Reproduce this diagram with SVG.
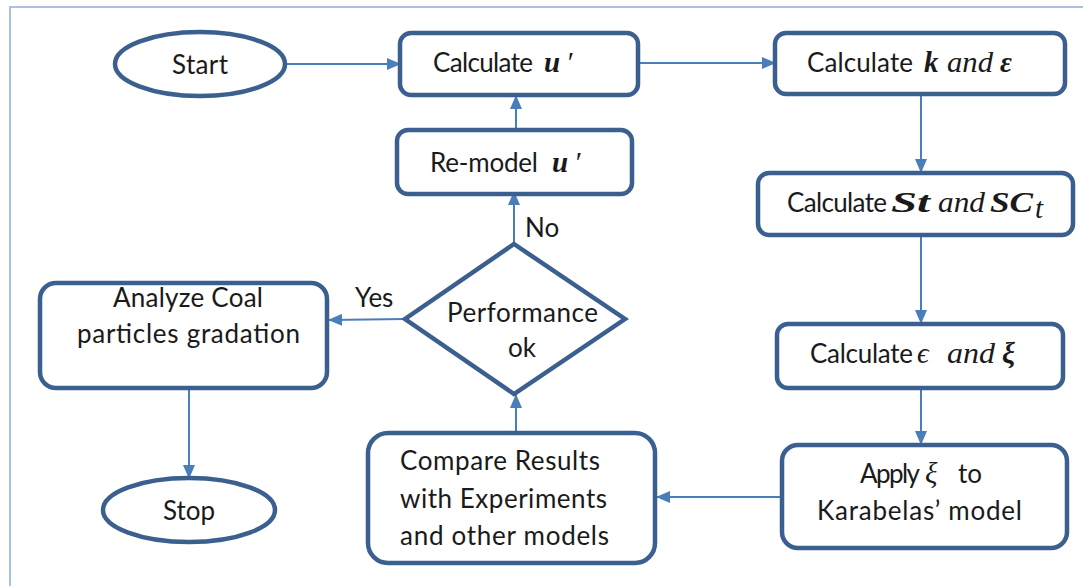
<svg xmlns="http://www.w3.org/2000/svg" width="1083" height="586" viewBox="0 0 1083 586">
<defs>
<style>
.box{fill:#fff;stroke:#3b5f8e;stroke-width:4.5}
.t{font-family:Lato,"Open Sans","Liberation Sans",sans-serif;font-size:26px;fill:#1a1a1a}
.m{font-family:"Liberation Serif","DejaVu Serif",serif;font-style:italic;font-size:29px;fill:#1a1a1a}
.b{font-weight:bold}
.c{fill:none;stroke:#4a7ebb;stroke-width:2}
.frame{fill:none;stroke:#a8c2e4;stroke-width:2}
</style>
<marker id="ah" viewBox="0 0 14 12" refX="13" refY="6" markerWidth="14" markerHeight="12" markerUnits="userSpaceOnUse" orient="auto">
<path d="M0,0 L14,6 L0,12 z" fill="#4a7ebb"/>
</marker>
</defs>
<rect width="1083" height="586" fill="#fff"/>
<path class="frame" d="M10,586 V7 H1083"/>
<g id="connectors">
<path class="c" d="M286,64 H400" marker-end="url(#ah)"/>
<path class="c" d="M640,63 H775" marker-end="url(#ah)"/>
<path class="c" d="M921,95 V172" marker-end="url(#ah)"/>
<path class="c" d="M921,236 V323" marker-end="url(#ah)"/>
<path class="c" d="M921,389 V444" marker-end="url(#ah)"/>
<path class="c" d="M782,497 H657" marker-end="url(#ah)"/>
<path class="c" d="M516,433 V395" marker-end="url(#ah)"/>
<path class="c" d="M514,243 V192" marker-end="url(#ah)"/>
<path class="c" d="M516,130 V96" marker-end="url(#ah)"/>
<path class="c" d="M405,319 L329,320" marker-end="url(#ah)"/>
<path class="c" d="M189,373 V478" marker-end="url(#ah)"/>
</g>
<g id="start">
<ellipse class="box" cx="200" cy="64" rx="85" ry="32"/>
<text class="t" x="200" y="74" text-anchor="middle" textLength="56">Start</text>
</g>
<g id="calc-u">
<rect class="box" x="400" y="33" width="238" height="62" rx="11"/>
<text class="t" x="433" y="72" textLength="100">Calculate</text>
<text class="m" y="72"><tspan class="b" x="544">u</tspan><tspan x="566">′</tspan></text>
</g>
<g id="calc-k">
<rect class="box" x="775" y="33" width="290" height="61" rx="11"/>
<text class="t" x="807" y="72" textLength="106">Calculate</text>
<text class="m b" x="924" y="72">k</text>
<text class="m" x="947" y="72" textLength="46" lengthAdjust="spacingAndGlyphs">and</text>
<text class="m b" x="1000" y="72">ε</text>
</g>
<g id="calc-st">
<rect class="box" x="758" y="173" width="315" height="62" rx="11"/>
<text class="t" x="787" y="212" textLength="100">Calculate</text>
<text class="m b" x="891" y="212" textLength="39" lengthAdjust="spacingAndGlyphs">St</text>
<text class="m" x="938" y="212" textLength="47" lengthAdjust="spacingAndGlyphs">and</text>
<text class="m b" x="990" y="212" textLength="43" lengthAdjust="spacingAndGlyphs">SC</text>
<text class="m" x="1035" y="218" font-size="18">t</text>
</g>
<g id="calc-eps">
<rect class="box" x="777" y="324" width="286" height="64" rx="11"/>
<text class="t" x="810" y="363" textLength="103">Calculate</text>
<text class="m" x="917" y="363">ϵ</text>
<text class="m" x="947" y="363" textLength="48" lengthAdjust="spacingAndGlyphs">and</text>
<text class="m b" x="1002" y="363">ξ</text>
</g>
<g id="apply">
<rect class="box" x="782" y="445" width="285" height="103" rx="16"/>
<text class="t" x="860" y="483" textLength="60">Apply</text>
<text class="m" x="925" y="483">ξ</text>
<text class="t" x="958" y="483">to</text>
<text class="t" x="817" y="520" textLength="205">Karabelas’ model</text>
</g>
<g id="compare">
<rect class="box" x="368" y="433" width="287" height="130" rx="20"/>
<text class="t" x="400" y="470" textLength="200">Compare Results</text>
<text class="t" x="400" y="508" textLength="207">with Experiments</text>
<text class="t" x="400" y="545" textLength="209">and other models</text>
</g>
<g id="decision">
<path class="box" d="M514,244 L625,319 L514,394 L405,319 Z"/>
<text class="t" x="447" y="322" textLength="151">Performance</text>
<text class="t" x="508" y="357">ok</text>
</g>
<g id="remodel">
<rect class="box" x="397" y="130" width="235" height="64" rx="11"/>
<text class="t" x="430" y="172" textLength="108">Re-model</text>
<text class="m" y="172"><tspan class="b" x="552">u</tspan><tspan x="574">′</tspan></text>
</g>
<g id="analyze">
<rect class="box" x="40" y="283" width="287" height="105" rx="16"/>
<text class="t" x="113" y="307" textLength="150">Analyze Coal</text>
<text class="t" x="77" y="343" textLength="223">particles gradation</text>
</g>
<g id="stop">
<ellipse class="box" cx="189" cy="510" rx="86" ry="32"/>
<text class="t" x="189" y="520" text-anchor="middle" textLength="52">Stop</text>
</g>
<g id="labels">
<text class="t" x="525" y="237">No</text>
<text class="t" x="355" y="307">Yes</text>
</g>
</svg>
